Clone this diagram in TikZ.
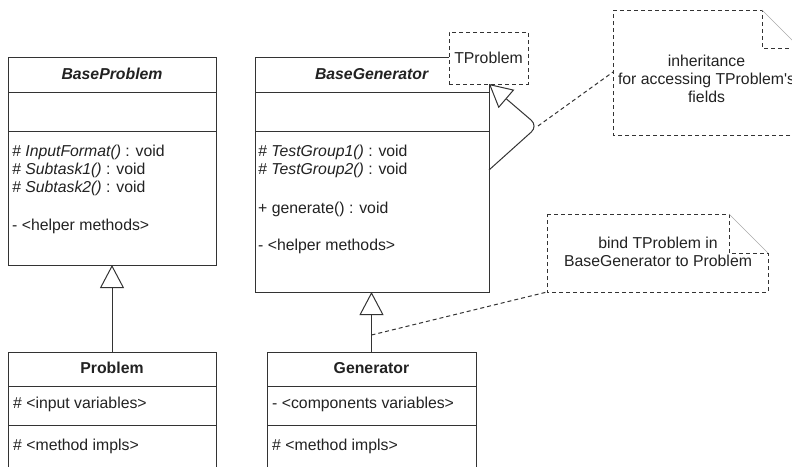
\documentclass[tikz,border=0pt]{standalone}
\usepackage{fontspec}
\setmainfont{Liberation Sans}
\newfontfamily\plainfont{Liberation Sans}
\usetikzlibrary{arrows.meta}
\definecolor{ink}{HTML}{222222}
\definecolor{edge}{HTML}{333333}
\definecolor{fold}{HTML}{AAAAAA}
\tikzset{
  every node/.style={font=\fontsize{15.8}{18.5}\selectfont, text=ink},
  comp/.style 2 args={draw=edge, line width=1pt, fill=white, anchor=north west,
    inner sep=0pt, outer sep=0pt, minimum width=#1, minimum height=#2,
    text height=11pt, text depth=2pt},
  txt/.style={anchor=west, inner sep=0pt, text height=11pt, text depth=2pt},
  txtc/.style={anchor=center, inner sep=0pt, text height=11pt, text depth=2pt},
  dashbox/.style={draw=edge, line width=1pt, dash pattern=on 4pt off 3pt, fill=white,
    anchor=north west, inner sep=0pt, outer sep=0pt},
  notearea/.style={anchor=north west, inner sep=0pt, outer sep=0pt},
  notedash/.style={draw=edge, line width=1pt, dash pattern=on 4pt off 3pt},
  notefold/.style={draw=fold, line width=0.6pt},
  inh/.style={draw=edge, line width=1pt,
    -{Triangle[open, length=23pt, width=24pt, fill=white]}},
  link/.style={draw=edge, line width=1pt, dash pattern=on 4pt off 3pt},
}
\begin{document}
\begin{tikzpicture}[x=1pt, y=-1pt]
\useasboundingbox (0,0) rectangle (792,466);
\clip (0,0) rectangle (792,466);

% BaseProblem
\node[comp={208pt}{35pt}] (bph) at (8,57) {\textbf{\textit{BaseProblem}}};
\node[comp={208pt}{39pt}] (bpa) at (bph.south west) {};
\node[comp={208pt}{134pt}] (bpm) at (bpa.south west) {};
\node[txt] (bp1) at (12,152) {\textit{\# InputFormat()} : void};
\node[txt] (bp2) at (12,170) {\textit{\# Subtask1()} : void};
\node[txt] (bp3) at (12,188) {\textit{\# Subtask2()} : void};
\node[txt] (bp4) at (12,226) {- <helper methods>};

% BaseGenerator
\node[comp={234pt}{35pt}] (bgh) at (255,57) {\textbf{\textit{BaseGenerator}}};
\node[comp={234pt}{39pt}] (bga) at (bgh.south west) {};
\node[comp={234pt}{161pt}] (bgm) at (bga.south west) {};
\node[txt] (bg1) at (258,152) {\textit{\# TestGroup1()} : void};
\node[txt] (bg2) at (258,170) {\textit{\# TestGroup2()} : void};
\node[txt] (bg3) at (258,209) {+ generate() : void};
\node[txt] (bg4) at (258,246) {- <helper methods>};

% TProblem template parameter
\node[dashbox, minimum width=79pt, minimum height=52pt] (tp) at (449,32) {TProblem};

% Problem
\node[comp={208pt}{34pt}] (pbh) at (8,352) {\textbf{Problem}};
\node[comp={208pt}{39pt}] (pba) at (pbh.south west) {};
\node[comp={208pt}{60pt}] (pbm) at (pba.south west) {};
\node[txt] (pb1) at (13,404) {\# <input variables>};
\node[txt] (pb2) at (13,446) {\# <method impls>};

% Generator
\node[comp={209pt}{34pt}] (gh) at (267,352) {\textbf{Generator}};
\node[comp={209pt}{39pt}] (ga) at (gh.south west) {};
\node[comp={209pt}{60pt}] (gm) at (ga.south west) {};
\node[txt] (g1) at (272,404) {- <components variables>};
\node[txt] (g2) at (272,446) {\# <method impls>};

% Note 1
\node[notearea, minimum width=187pt, minimum height=125pt] (n1) at (613,10) {};
\draw[notedash] (n1.north west) -- ([xshift=-38pt]n1.north east)
  -- ([xshift=-38pt, yshift=-38pt]n1.north east) -- ([yshift=-38pt]n1.north east)
  -- (n1.south east) -- (n1.south west) -- cycle;
\draw[notefold] ([xshift=-38pt]n1.north east) -- ([yshift=-38pt]n1.north east);
\node[txtc] (n1a) at (706.5,62) {inheritance};
\node[txtc] (n1b) at (706.5,80) {for accessing TProblem{\plainfont '}s};
\node[txtc] (n1c) at (706.5,98) {fields};

% Note 2
\node[notearea, minimum width=221pt, minimum height=78pt] (n2) at (547,214) {};
\draw[notedash] (n2.north west) -- ([xshift=-39pt]n2.north east)
  -- ([xshift=-39pt, yshift=-39pt]n2.north east) -- ([yshift=-39pt]n2.north east)
  -- (n2.south east) -- (n2.south west) -- cycle;
\draw[notefold] ([xshift=-39pt]n2.north east) -- ([yshift=-39pt]n2.north east);
\node[txtc] (n2a) at (658,244) {bind TProblem in};
\node[txtc] (n2b) at (658,262) {BaseGenerator to Problem};

% Inheritance connectors
\draw[inh] (pbh.north) -- (bpm.south);
\draw[inh] (gh.north) -- (gh.north |- bgm.south);
\coordinate (bend) at (538,126);
\draw[inh, rounded corners=9pt] ([yshift=-39pt]bgm.north east) -- (bend) -- (bgh.north east |- tp.south);

% Note links
\coordinate (gmid) at ([yshift=17pt]gh.north);
\draw[link] (bend) -- ([yshift=-62pt]n1.north west);
\draw[link] (gmid) -- (n2.south west);
\end{tikzpicture}
\end{document}
